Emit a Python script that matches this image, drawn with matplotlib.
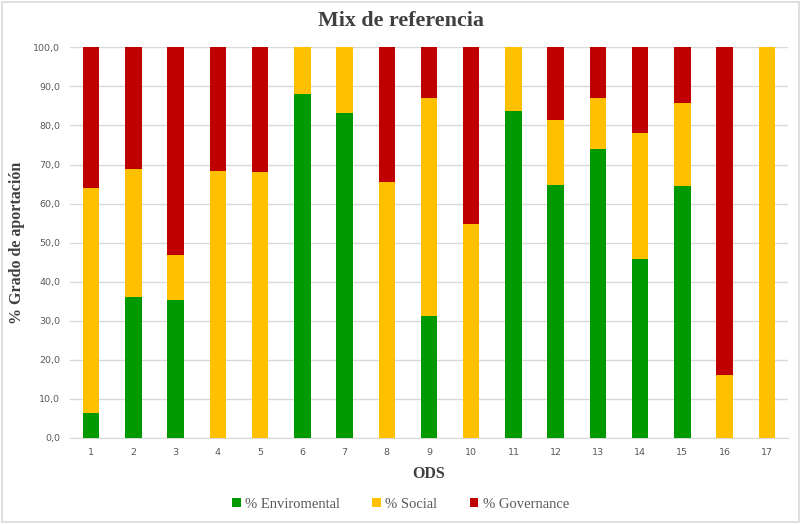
import numpy as np
import matplotlib.pyplot as plt
from matplotlib.patches import Rectangle

# values
ods = list(range(1, 18))
enviromental = [6.4, 36.0, 35.3, 0.0, 0.0, 88.0, 83.1, 0.0, 31.1, 0.0, 83.6, 64.7, 73.9, 45.7, 64.6, 0.0, 0.0]
social = [57.7, 32.9, 11.5, 68.3, 68.0, 12.0, 16.9, 65.4, 56.0, 54.9, 16.4, 16.6, 13.2, 32.4, 21.2, 16.1, 100.0]
governance = [100 - e - s for e, s in zip(enviromental, social)]

green = '#009900'
yellow = '#FFC000'
red = '#C00000'
text_gray = '#595959'

fig = plt.figure(figsize=(8.01, 5.24), dpi=100)
ax = fig.add_axes([70 / 801, 1 - 438 / 524, 718 / 801, 390.7 / 524])

x = np.array(ods)
env = np.array(enviromental)
soc = np.array(social)
gov = np.array(governance)
w = 0.39
ax.bar(x, env, w, color=green, label='% Enviromental', zorder=3)
ax.bar(x, soc, w, bottom=env, color=yellow, label='% Social', zorder=3)
ax.bar(x, gov, w, bottom=env + soc, color=red, label='% Governance', zorder=3)

ax.set_xlim(0.5, 17.5)
ax.set_ylim(0, 100)
ax.set_yticks(np.arange(0, 101, 10))
ax.set_yticklabels([f'{v:.1f}'.replace('.', ',') for v in np.arange(0, 101, 10)])
ax.set_xticks(x)
ax.set_xticklabels([str(i) for i in ods])
ax.tick_params(axis='both', length=0, labelsize=6.8, labelcolor=text_gray)
ax.tick_params(axis='y', pad=7)
ax.tick_params(axis='x', pad=7)
ax.grid(axis='y', color='#D9D9D9', linewidth=1, zorder=0)
for s in ['top', 'right', 'left']:
    ax.spines[s].set_visible(False)
ax.spines['bottom'].set_color('#D9D9D9')

serif = 'Liberation Serif'
fig.text(0.5, 1 - 21 / 524, 'Mix de referencia', ha='center', va='center',
         fontsize=15.8, fontweight='bold', family=serif, color='#404040')
ax.set_ylabel('% Grado de aportación', fontsize=11.5, fontweight='bold',
              family=serif, color='#404040')
ax.yaxis.set_label_coords((25 - 70) / 718, 0.5)
ax.set_xlabel('ODS', fontsize=11.5, fontweight='bold', family=serif,
              color='#404040')
ax.xaxis.set_label_coords(0.5, -(474 - 438) / 390.7)
ax.xaxis.label.set_va('center')

leg = fig.legend(loc='center', bbox_to_anchor=(0.5, 1 - 504 / 524), ncol=3,
                 frameon=False, handlelength=0.6, handleheight=0.6,
                 handletextpad=0.3, columnspacing=2.2,
                 prop={'family': serif, 'size': 10.5})
for t in leg.get_texts():
    t.set_color(text_gray)

fig.patches.append(Rectangle((0.002, 0.003), 0.996, 0.994, transform=fig.transFigure,
                             fill=False, edgecolor='#D9D9D9', linewidth=1.2))

fig.savefig('out.png', dpi=100)
